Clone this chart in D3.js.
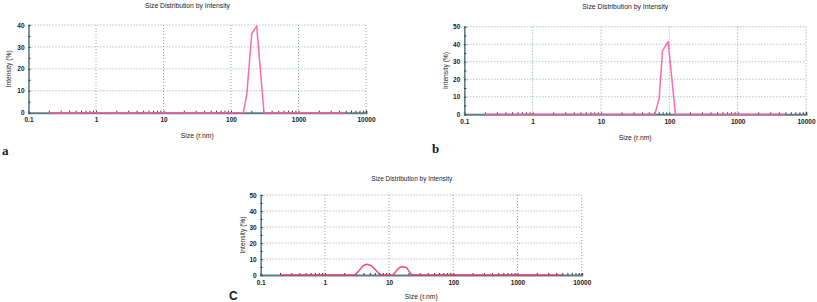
<!DOCTYPE html>
<html>
<head>
<meta charset="utf-8">
<script src="https://cdn.jsdelivr.net/npm/d3@7"></script>
<style>
  body { margin: 0; background: #fff; }
  text { font-family: "Liberation Sans", Arial, sans-serif; fill: #1a1a1a; }
</style>
</head>
<body>
<svg id="chart" width="817" height="302"></svg>
<script>
// Size axis (log) ticks, shared by all three panels
const sizeTicks = [0.1, 1, 10, 100, 1000, 10000];
const sizeTickLabels = ["0.1", "1", "10", "100", "1000", "10000"];
const intensityTicksA = [0, 10, 20, 30, 40];
const intensityTicksBC = [0, 10, 20, 30, 40, 50];

// Panel a: size (r.nm) vs intensity (%)
const sizesA = [0.2, 152, 171, 203, 240, 308, 5000];
const intensityA = [0, 0, 8, 36, 39.6, 0, 0];

// Panel b
const sizesB = [0.2, 61.4, 71, 79.6, 96, 123, 5000];
const intensityB = [0, 0, 9.1, 36.3, 41.5, 0, 0];

// Panel c: two small peaks
const sizesC = [0.2, 2.94, 3.52, 3.92, 4.48, 5.22, 6.03, 6.84, 7.67, 11.6, 13.3, 14.8, 16.6, 18.7, 20.4, 22.5, 5000];
const intensityC = [0, 0, 3.5, 5.8, 6.7, 6.0, 3.6, 1.2, 0, 0, 3.2, 4.8, 5.2, 4.6, 2.4, 0, 0];

const titleText = "Size Distribution by Intensity";
const xTitle = "Size (r.nm)";
const yTitle = "Intensity (%)";

const svg = d3.select("#chart");

// layout of each panel (pixel positions)
const panels = [
  { sizes: sizesA, values: intensityA, yTicks: intensityTicksA, letter: "a", serif: true,
    left: 28.5, right: 366, top: 25, bottom: 112.7, color: "#ff5aa5",
    titleY: 8, titleX: 187.5, titleW: 85, xlabY: 138, ylabX: 9, letterX: 2, letterY: 155 },
  { sizes: sizesB, values: intensityB, yTicks: intensityTicksBC, letter: "b", serif: true,
    left: 464.3, right: 806, top: 26.7, bottom: 114.3, color: "#ff5aa5",
    titleY: 9, titleX: 625.3, titleW: 86, xlabY: 139.5, ylabX: 446, letterX: 432, letterY: 153 },
  { sizes: sizesC, values: intensityC, yTicks: intensityTicksBC, letter: "C", serif: false,
    left: 260.7, right: 581.7, top: 195, bottom: 275, color: "#ea3a70",
    titleY: 180.5, titleX: 411.7, titleW: 81, xlabY: 299, ylabX: 243, letterX: 229, letterY: 300 }
];

panels.forEach(p => {
  const yMax = p.yTicks[p.yTicks.length - 1];
  const x = d3.scaleLog().domain([sizeTicks[0], sizeTicks[sizeTicks.length - 1]]).range([p.left, p.right]);
  const y = d3.scaleLinear().domain([0, yMax]).range([p.bottom, p.top]);
  const g = svg.append("g");

  // dotted grid
  g.selectAll(".vgrid").data(sizeTicks.slice(1)).join("line")
    .attr("x1", d => x(d)).attr("x2", d => x(d))
    .attr("y1", p.top).attr("y2", p.bottom)
    .attr("stroke", "#8ea6ab").attr("stroke-dasharray", "1,2");
  g.selectAll(".hgrid").data(p.yTicks.slice(1)).join("line")
    .attr("x1", p.left).attr("x2", p.right)
    .attr("y1", d => y(d)).attr("y2", d => y(d))
    .attr("stroke", "#8ea6ab").attr("stroke-dasharray", "1,2");

  // x axis: minor ticks, then labels
  g.append("g")
    .attr("transform", `translate(0,${p.bottom})`)
    .call(d3.axisBottom(x).tickValues(x.ticks()).tickSize(-2).tickFormat(""))
    .call(a => a.select(".domain").attr("stroke", "#5f7d83").attr("stroke-width", 2))
    .call(a => a.selectAll(".tick line").attr("stroke", "#2a3a3c"));
  g.append("g")
    .attr("transform", `translate(0,${p.bottom})`)
    .call(d3.axisBottom(x).tickValues(sizeTicks).tickSize(0).tickPadding(5)
      .tickFormat((d, i) => sizeTickLabels[i]))
    .call(a => a.select(".domain").remove())
    .call(a => a.selectAll("text").attr("font-size", 6.5).attr("font-weight", "bold").attr("fill", "#1a1a1a"));

  // y axis
  g.append("g")
    .attr("transform", `translate(${p.left},0)`)
    .call(d3.axisLeft(y).ticks(yMax / 5).tickSize(-2).tickFormat(""))
    .call(a => a.select(".domain").attr("stroke", "#5f7d83").attr("stroke-width", 1.6))
    .call(a => a.selectAll(".tick line").attr("stroke", "#2a3a3c"));
  g.append("g")
    .attr("transform", `translate(${p.left},0)`)
    .call(d3.axisLeft(y).tickValues(p.yTicks).tickSize(0).tickPadding(4))
    .call(a => a.select(".domain").remove())
    .call(a => a.selectAll("text").attr("font-size", 6.5).attr("font-weight", "bold").attr("fill", "#1a1a1a"));

  // distribution line
  const pts = p.sizes.map((s, i) => [s, p.values[i]]);
  g.append("path")
    .datum(pts)
    .attr("fill", "none")
    .attr("stroke", p.color)
    .attr("stroke-width", 1.5)
    .attr("stroke-opacity", 0.9)
    .attr("stroke-linejoin", "round")
    .attr("d", d3.line().x(d => x(d[0])).y(d => y(d[1])));

  // titles
  g.append("text")
    .attr("x", p.titleX).attr("y", p.titleY)
    .attr("text-anchor", "middle").attr("font-size", 6.5)
    .attr("textLength", p.titleW).attr("lengthAdjust", "spacingAndGlyphs")
    .text(titleText);
  g.append("text")
    .attr("x", (p.left + p.right) / 2).attr("y", p.xlabY)
    .attr("text-anchor", "middle").attr("font-size", 6.5)
    .attr("textLength", 33).attr("lengthAdjust", "spacingAndGlyphs")
    .text(xTitle);
  g.append("text")
    .attr("transform", `translate(${p.ylabX},${(p.top + p.bottom) / 2}) rotate(-90)`)
    .attr("text-anchor", "middle").attr("dy", "0.35em").attr("font-size", 6.5)
    .attr("textLength", 37).attr("lengthAdjust", "spacingAndGlyphs")
    .text(yTitle);

  // panel letter
  g.append("text")
    .attr("x", p.letterX).attr("y", p.letterY)
    .attr("font-size", p.serif ? 13 : 12)
    .attr("font-weight", "bold")
    .style("font-family", p.serif ? "'Liberation Serif', 'DejaVu Serif', serif" : "'Liberation Sans', Arial, sans-serif")
    .text(p.letter);
});
</script>
</body>
</html>
